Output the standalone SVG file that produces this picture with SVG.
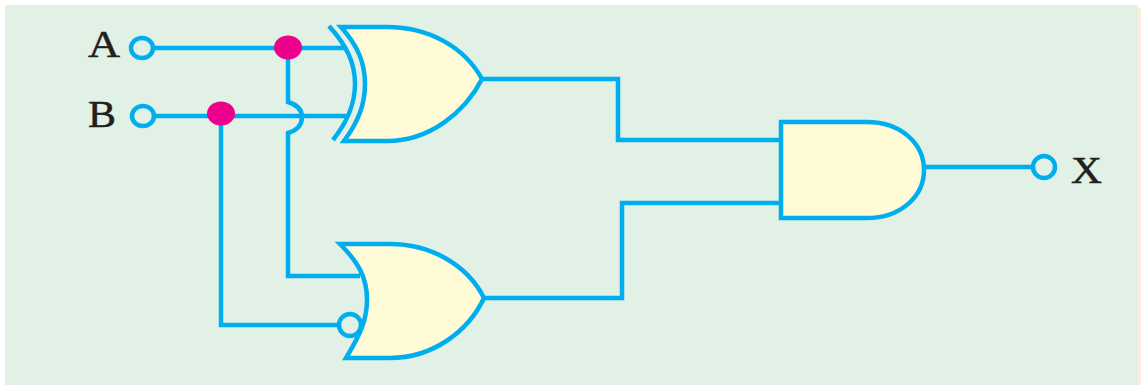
<svg xmlns="http://www.w3.org/2000/svg" width="1141" height="385" viewBox="0 0 1141 385">
<style>
.w{fill:none;stroke:#00aeef;stroke-width:4.5;stroke-linejoin:miter}
.g{fill:#fffbd6;stroke:#00aeef;stroke-width:4.5;stroke-linejoin:miter}
.t{fill:none;stroke:#00aeef;stroke-width:4.5}
.d{fill:#ec008c}
.l{font-family:"Liberation Serif","Times New Roman",serif;font-size:38px;fill:#231f20;stroke:#231f20;stroke-width:.5}
</style>
<rect width="1141" height="385" fill="#ffffff"/>
<rect x="1138" y="8" width="3" height="377" fill="#fdeee0"/>
<rect x="5" y="5" width="1133" height="380" fill="#e1f1e6"/>
<g id="connectors">
<path class="w" d="M153 48H346"/>
<path class="w" d="M154 116H348"/>
<path class="w" d="M288 48V102C298 105 302 110 302 117C302 125 298 130 288 133V276H360"/>
<path class="w" d="M221 113V325H339"/>
<path class="w" d="M482 79H618V140H781"/>
<path class="w" d="M484 298H622V203H781"/>
<path class="w" d="M925 167H1033"/>
</g>
<g id="input-a">
<ellipse class="t" cx="142" cy="48" rx="11" ry="10"/>
<text class="l" x="88" y="57" textLength="32" lengthAdjust="spacingAndGlyphs">A</text>
</g>
<g id="input-b">
<ellipse class="t" cx="143" cy="116" rx="11" ry="10"/>
<text class="l" x="88" y="127" textLength="28" lengthAdjust="spacingAndGlyphs">B</text>
</g>
<g id="junction-a"><ellipse class="d" cx="288" cy="47.5" rx="14" ry="12"/></g>
<g id="junction-b"><ellipse class="d" cx="221" cy="113.5" rx="14" ry="12"/></g>
<g id="xor-gate">
<path class="w" d="M329 26C347 46 355 63 355 84C355 105 347 122 333 140"/>
<path class="g" d="M341 27H387C430 27 465 48 482 79C465 112 430 141 387 141H344C358 122 365 105 365 84C365 63 358 46 341 27Z"/>
</g>
<g id="or-gate">
<path class="g" d="M340 244H390C432 244 468 266 484 298C468 332 432 358 390 358H346C360 335 367 320 367 300C367 277 358 262 340 244Z"/>
<circle class="t" cx="350" cy="325" r="11"/>
</g>
<g id="and-gate">
<path class="g" d="M781 122H867C900 122 924 143 924 170C924 197 900 218 867 218H781Z"/>
</g>
<g id="output-x">
<circle class="t" cx="1044" cy="167" r="11"/>
<text class="l" x="1071" y="183" textLength="31" lengthAdjust="spacingAndGlyphs">X</text>
</g>
</svg>
